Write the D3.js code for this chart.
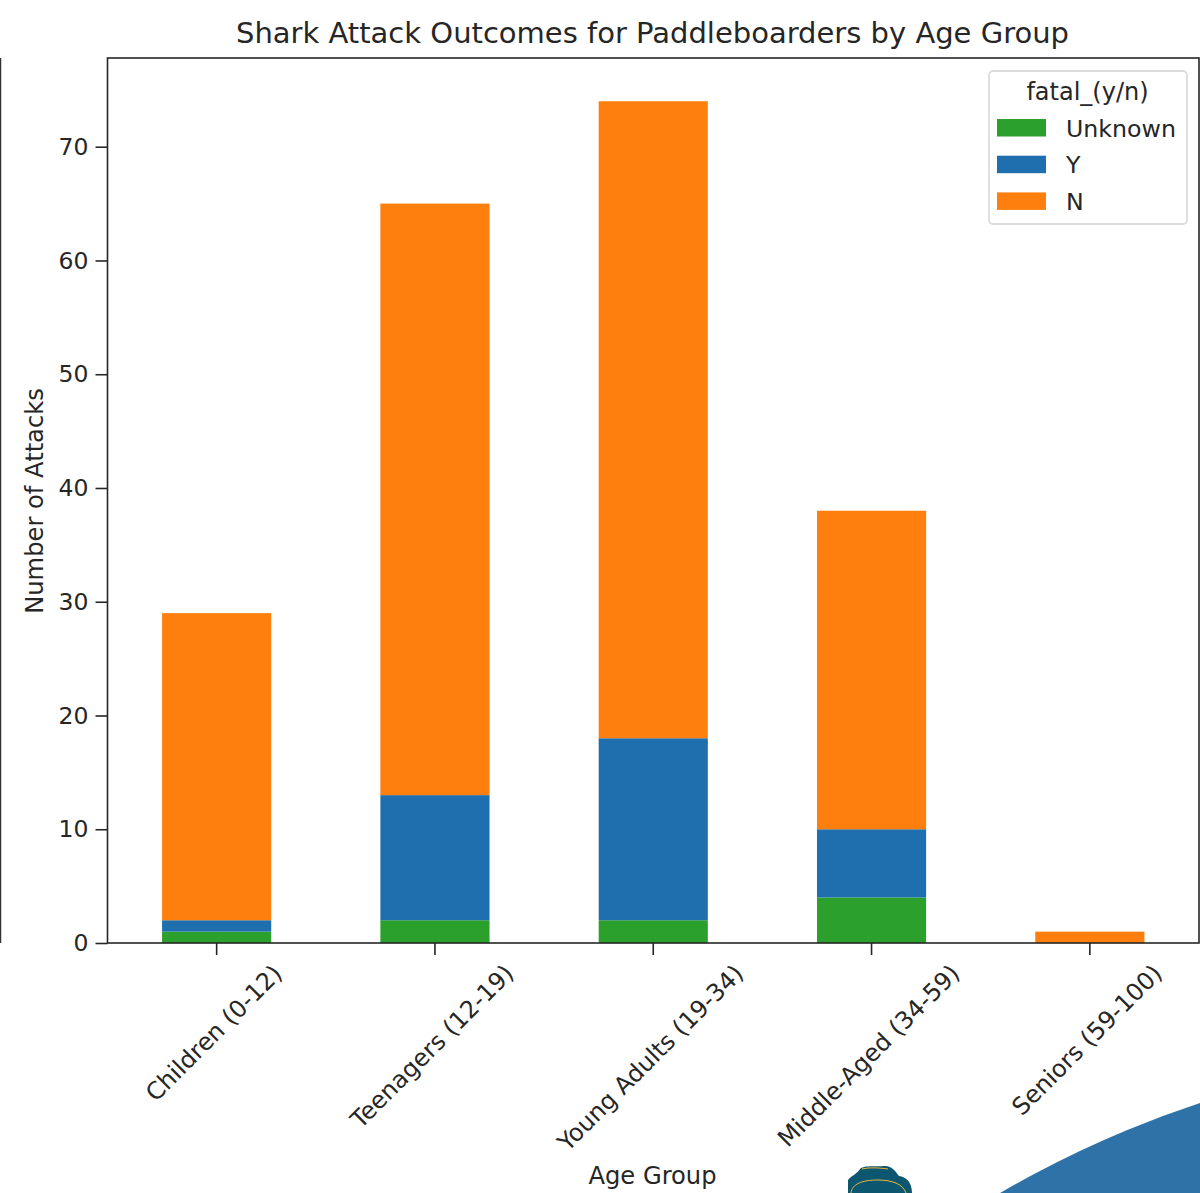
<!DOCTYPE html>
<html>
<head>
<meta charset="utf-8">
<script src="https://cdn.jsdelivr.net/npm/d3@7"></script>
<style>
    html, body { margin: 0; padding: 0; background: #fff; overflow: hidden; }
    text { font-family: "DejaVu Sans", sans-serif; fill: #262626; }
</style>
</head>
<body>
<svg id="chart" width="1200" height="1193"></svg>
<script>
// datos
const categories = ['Children (0-12)', 'Teenagers (12-19)', 'Young Adults (19-34)', 'Middle-Aged (34-59)', 'Seniors (59-100)'];
const outcomes = ['Unknown', 'Y', 'N'];
const unknownValues = [1, 2, 2, 4, 0];
const yesValues = [1, 11, 16, 6, 0];
const noValues = [27, 52, 56, 28, 1];
const yTicks = [0, 10, 20, 30, 40, 50, 60, 70];

const colors = { Unknown: '#2ca02c', Y: '#1f6fae', N: '#ff7f0e' };

const rows = categories.map((c, i) => ({
    category: c,
    Unknown: unknownValues[i],
    Y: yesValues[i],
    N: noValues[i]
}));

const plotLeft = 107.5, plotRight = 1199, plotTop = 58, plotBottom = 943;

const svg = d3.select('#chart');

// decoracion de fondo (recortes de la pagina original)
svg.append('circle').attr('cx', 1528).attr('cy', 2099).attr('r', 1048.6).attr('fill', '#2f72a8');
svg.append('path')
    .attr('d', 'M848 1193 L848 1180 C851 1176 857 1174 860 1169 C864 1165 875 1167 885 1166 C892 1166 896 1172 899 1176 C906 1177 912 1182 912 1193 Z')
    .attr('fill', '#0c5670');
svg.append('path')
    .attr('d', 'M851 1193 C852 1184 862 1180 878 1180 C892 1180 903 1184 906 1193')
    .attr('fill', 'none').attr('stroke', '#e8b93a').attr('stroke-width', 1);
svg.append('path')
    .attr('d', 'M862 1169 C870 1167 880 1168 888 1169')
    .attr('fill', 'none').attr('stroke', '#e8b93a').attr('stroke-width', 1);

svg.append('line')
    .attr('x1', 0.5).attr('x2', 0.5).attr('y1', plotTop).attr('y2', plotBottom)
    .attr('stroke', '#333').attr('stroke-width', 1.5);

const x = d3.scaleBand()
    .domain(categories)
    .range([plotLeft, plotRight])
    .paddingInner(0.5)
    .paddingOuter(0.25);

const y = d3.scaleLinear()
    .domain([0, 77.8])
    .range([plotBottom, plotTop]);

const stacked = d3.stack().keys(outcomes)(rows);

svg.append('g')
    .selectAll('g')
    .data(stacked)
    .join('g')
    .attr('fill', d => colors[d.key])
    .selectAll('rect')
    .data(d => d)
    .join('rect')
    .attr('x', d => x(d.data.category))
    .attr('y', d => y(d[1]))
    .attr('width', x.bandwidth())
    .attr('height', d => y(d[0]) - y(d[1]));

// ejes
const yAxis = svg.append('g')
    .attr('transform', `translate(${plotLeft},0)`)
    .call(d3.axisLeft(y).tickValues(yTicks).tickSize(12).tickPadding(7));
const xAxis = svg.append('g')
    .attr('transform', `translate(0,${plotBottom})`)
    .call(d3.axisBottom(x).tickSize(12));

yAxis.select('.domain').remove();
xAxis.select('.domain').remove();
yAxis.selectAll('line').attr('stroke', '#262626').attr('stroke-width', 1.6);
xAxis.selectAll('line').attr('stroke', '#262626').attr('stroke-width', 1.6);
yAxis.selectAll('text').style('font-size', '23.5px');
xAxis.selectAll('text')
    .style('font-size', '24px')
    .attr('text-anchor', 'middle')
    .attr('dy', 0)
    .attr('y', 0)
    .attr('transform', function (d) {
        // rotacion de 45 grados alrededor del centro de la etiqueta
        const w = this.getComputedTextLength();
        const off = (w * Math.SQRT1_2) / 2 + 32;
        return `translate(3,${off}) rotate(-45)`;
    });

svg.append('rect')
    .attr('x', plotLeft).attr('y', plotTop)
    .attr('width', plotRight - plotLeft).attr('height', plotBottom - plotTop)
    .attr('fill', 'none').attr('stroke', '#262626').attr('stroke-width', 1.6);

// titulos
svg.append('text')
    .attr('x', 652.5).attr('y', 43)
    .attr('text-anchor', 'middle')
    .style('font-size', '29px')
    .text('Shark Attack Outcomes for Paddleboarders by Age Group');
svg.append('text')
    .attr('x', 652.5).attr('y', 1184)
    .attr('text-anchor', 'middle')
    .style('font-size', '24.2px')
    .text('Age Group');
svg.append('text')
    .attr('transform', 'translate(43,501) rotate(-90)')
    .attr('text-anchor', 'middle')
    .style('font-size', '24.2px')
    .text('Number of Attacks');

// leyenda
const legend = svg.append('g');
legend.append('rect')
    .attr('x', 989).attr('y', 71)
    .attr('width', 198).attr('height', 153)
    .attr('rx', 4)
    .attr('fill', '#fff').attr('stroke', '#dcdcdc').attr('stroke-width', 1.8);
legend.append('text')
    .attr('x', 1087.5).attr('y', 100)
    .attr('text-anchor', 'middle')
    .style('font-size', '24px')
    .text('fatal_(y/n)');
outcomes.forEach((k, i) => {
    const rowY = 119 + i * 36.7;
    legend.append('rect')
        .attr('x', 997).attr('y', rowY)
        .attr('width', 49).attr('height', 17.5)
        .attr('fill', colors[k]);
    legend.append('text')
        .attr('x', 1066).attr('y', rowY + 17.5)
        .style('font-size', '23.7px')
        .text(k);
});
</script>
</body>
</html>
